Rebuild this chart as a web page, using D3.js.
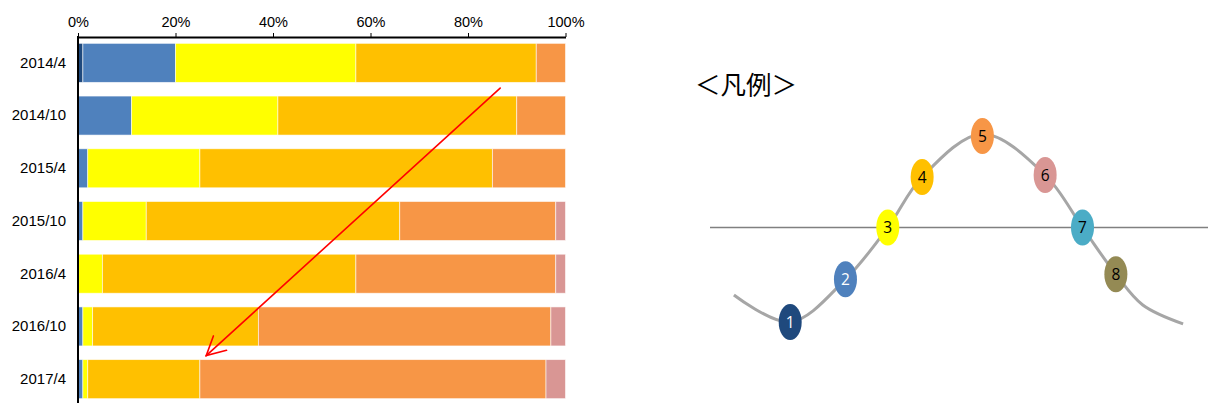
<!DOCTYPE html>
<html>
<head>
<meta charset="utf-8">
<script src="https://cdn.jsdelivr.net/npm/d3@7/dist/d3.min.js"></script>
<style>
  html, body { margin: 0; padding: 0; background: #fff; }
  svg { display: block; }
</style>
</head>
<body>
<svg id="chart" width="1208" height="403"></svg>
<script>
// Survey periods (rows, top to bottom)
const categories = ["2014/4", "2014/10", "2015/4", "2015/10", "2016/4", "2016/10", "2017/4"];

// Share (%) of each phase 1..8 per period
const phase1 = [1, 0, 0, 0, 0, 0, 0];
const phase2 = [19, 11, 2, 1, 0, 1, 1];
const phase3 = [37, 30, 23, 13, 5, 2, 1];
const phase4 = [37, 49, 60, 52, 52, 34, 23];
const phase5 = [6, 10, 15, 32, 41, 60, 71];
const phase6 = [0, 0, 0, 2, 2, 3, 4];
const phase7 = [0, 0, 0, 0, 0, 0, 0];
const phase8 = [0, 0, 0, 0, 0, 0, 0];

const phaseNames = ["1", "2", "3", "4", "5", "6", "7", "8"];
const phaseColors = ["#1f497d", "#4f81bd", "#ffff00", "#ffc000", "#f79646", "#d99694", "#4bacc6", "#948a54"];
const xTicks = [0, 20, 40, 60, 80, 100];

// Trend arrow: from 2014/10 (phase 4/5 boundary area) down to 2017/4
const arrowFrom = { cat: "2014/10", pct: 86.6 };
const arrowTo = { cat: "2017/4", pct: 26.3 };

// Legend: schematic cycle curve (x, y in unit space) and phase positions on it
const legendCurve = [
  [0.048, 0.714], [0.161, 1.0], [0.272, 0.548], [0.357, 0.0], [0.426, -0.534],
  [0.547, -0.99], [0.673, -0.556], [0.748, 0.0], [0.815, 0.495], [0.869, 0.82], [0.95, 1.02]
];
const legendDots = [
  [0.161, 1.0], [0.272, 0.548], [0.357, 0.0], [0.426, -0.534],
  [0.547, -0.968], [0.673, -0.556], [0.748, 0.0], [0.815, 0.495]
];

const svg = d3.select("#chart");
const font = "'Liberation Sans', Arial, sans-serif";

const x = d3.scaleLinear().domain([0, 100]).range([78, 565.5]);
const y = d3.scaleBand().domain(categories).range([36.5, 405.5])
  .paddingInner(0.26).paddingOuter(0.13);

const series = [phase1, phase2, phase3, phase4, phase5, phase6, phase7, phase8];
const rows = categories.map((c, i) => {
  const r = { cat: c };
  phaseNames.forEach((p, k) => { r[p] = series[k][i]; });
  return r;
});
const stacked = d3.stack().keys(phaseNames)(rows);

// Bars
const g = svg.append("g");
stacked.forEach((layer, k) => {
  g.selectAll(null)
    .data(layer.filter(d => d[1] - d[0] > 0))
    .join("rect")
    .attr("x", d => x(d[0]))
    .attr("y", d => y(d.data.cat))
    .attr("width", d => x(d[1]) - x(d[0]))
    .attr("height", y.bandwidth())
    .attr("fill", phaseColors[k])
    .attr("stroke", "#ffffff")
    .attr("stroke-opacity", 0.7)
    .attr("stroke-width", 0.8);
});

// Top percentage axis
const xAxis = d3.axisTop(x).tickValues(xTicks).tickFormat(d => d + "%").tickSize(4).tickPadding(6).tickSizeOuter(0);
const gx = svg.append("g").attr("transform", "translate(0,37)").call(xAxis);
gx.select(".domain").attr("stroke", "#000").attr("stroke-width", 2);
gx.selectAll(".tick line").attr("stroke", "#000");
gx.selectAll("text").attr("font-family", font).attr("font-size", 14.5).attr("fill", "#000");

// Left category axis
const yAxis = d3.axisLeft(y).tickSize(0).tickPadding(12);
const gy = svg.append("g").attr("transform", "translate(78,0)").call(yAxis);
gy.select(".domain").remove();
gy.selectAll("text").attr("font-family", font).attr("font-size", 15).attr("fill", "#000");
svg.append("line").attr("x1", 78).attr("x2", 78).attr("y1", 36).attr("y2", 403)
  .attr("stroke", "#000").attr("stroke-width", 2);

// Trend arrow
const ax0 = x(arrowFrom.pct), ay0 = y(arrowFrom.cat) - 8;
const ax1 = x(arrowTo.pct), ay1 = y(arrowTo.cat) - 4;
const ang = Math.atan2(ay0 - ay1, ax0 - ax1);
const headLen = 21, headSpread = Math.PI / 6.5;
const arrow = svg.append("g").attr("stroke", "#ff0000").attr("stroke-width", 1.6).attr("fill", "none")
  .attr("stroke-linecap", "round");
arrow.append("line").attr("x1", ax0).attr("y1", ay0).attr("x2", ax1).attr("y2", ay1);
arrow.append("path").attr("d",
  `M${ax1 + headLen * Math.cos(ang + headSpread)},${ay1 + headLen * Math.sin(ang + headSpread)}` +
  `L${ax1},${ay1}` +
  `L${ax1 + headLen * Math.cos(ang - headSpread)},${ay1 + headLen * Math.sin(ang - headSpread)}`);

// Legend
svg.append("text").attr("x", 695).attr("y", 94)
  .attr("font-family", "'Noto Sans CJK JP', sans-serif").attr("font-size", 25.5).attr("fill", "#000")
  .text("＜凡例＞");

const lx = d3.scaleLinear().domain([0, 1]).range([710, 1208]);
const ly = d3.scaleLinear().domain([-1, 1]).range([133, 322]);

svg.append("line").attr("x1", lx(0)).attr("x2", lx(1)).attr("y1", ly(0)).attr("y2", ly(0))
  .attr("stroke", "#808080").attr("stroke-width", 1.6);

svg.append("path")
  .attr("d", d3.line().x(d => lx(d[0])).y(d => ly(d[1])).curve(d3.curveCatmullRom.alpha(0.5))(legendCurve))
  .attr("fill", "none").attr("stroke", "#a6a6a6").attr("stroke-width", 3);

const dots = svg.append("g").selectAll("g").data(legendDots).join("g")
  .attr("transform", d => `translate(${lx(d[0])},${ly(d[1])})`);
dots.append("ellipse").attr("rx", 11.5).attr("ry", 18)
  .attr("fill", (d, i) => phaseColors[i]);
dots.append("text").attr("text-anchor", "middle").attr("dy", "0.36em")
  .attr("font-family", "'Open Sans', sans-serif").attr("font-size", 15.5)
  .attr("fill", (d, i) => i < 2 ? "#fff" : "#000")
  .text((d, i) => phaseNames[i]);
</script>
</body>
</html>
